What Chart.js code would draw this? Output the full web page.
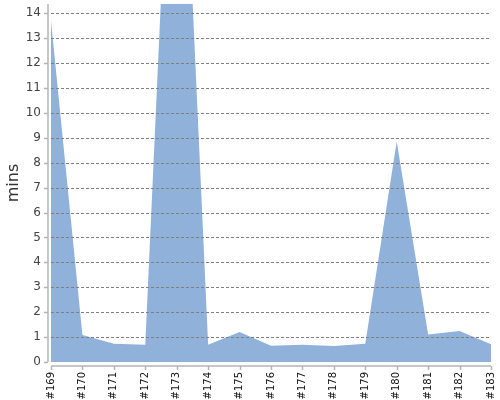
<!DOCTYPE html>
<html>
<head>
<meta charset="utf-8">
<script src="https://cdn.jsdelivr.net/npm/chart.js@4"></script>
<style>
html,body{margin:0;padding:0;background:#fff;}
#wrap{width:500px;height:400px;}
</style>
</head>
<body>
<div id="wrap"><canvas id="c"></canvas></div>
<script>
const categories = ['#169','#170','#171','#172','#173','#174','#175','#176','#177','#178','#179','#180','#181','#182','#183'];
const minsValues = [13.7, 1.08, 0.73, 0.69, 28.5, 0.69, 1.2, 0.65, 0.69, 0.64, 0.73, 8.85, 1.1, 1.24, 0.71];
const yMin = 0;
const yMax = 14.37;
const yStep = 1;

const axesPlugin = {
  id: 'axesPlugin',
  afterDatasetsDraw(chart) {
    const ctx = chart.ctx;
    const a = chart.chartArea;
    const ys = chart.scales.y;
    const xs = chart.scales.x;
    ctx.save();
    ctx.strokeStyle = '#7f7f7f';
    ctx.lineWidth = 1;
    ctx.setLineDash([3, 2]);
    ys.ticks.forEach(t => {
      if (t.value === 0) return;
      const y = Math.round(ys.getPixelForValue(t.value)) + 0.5;
      ctx.beginPath();
      ctx.moveTo(a.left, y);
      ctx.lineTo(a.right, y);
      ctx.stroke();
    });
    ctx.setLineDash([]);
    ctx.strokeStyle = '#b4b4b4';
    ctx.lineWidth = 1.5;
    const axX = a.left - 3;
    ctx.beginPath();
    ctx.moveTo(axX, a.top);
    ctx.lineTo(axX, a.bottom);
    ctx.stroke();
    ys.ticks.forEach(t => {
      const y = Math.round(ys.getPixelForValue(t.value)) + 0.5;
      ctx.beginPath();
      ctx.moveTo(axX - 4, y);
      ctx.lineTo(axX, y);
      ctx.stroke();
    });
    const axY = a.bottom + 4;
    ctx.beginPath();
    ctx.moveTo(a.left, axY);
    ctx.lineTo(a.right, axY);
    ctx.stroke();
    xs.ticks.forEach((t, i) => {
      const x = Math.round(xs.getPixelForTick(i)) + 0.5;
      ctx.beginPath();
      ctx.moveTo(x, axY);
      ctx.lineTo(x, axY + 4);
      ctx.stroke();
    });
    ctx.restore();
  }
};

new Chart(document.getElementById('c'), {
  type: 'line',
  data: {
    labels: categories,
    datasets: [{
      data: minsValues,
      fill: 'origin',
      backgroundColor: '#8fb1da',
      borderWidth: 0,
      borderColor: 'rgba(0,0,0,0)',
      pointRadius: 0,
      pointHoverRadius: 0,
      tension: 0
    }]
  },
  options: {
    responsive: true,
    maintainAspectRatio: false,
    animation: false,
    events: [],
    layout: { padding: { top: 4, right: 9, left: 0, bottom: 0 } },
    plugins: { legend: { display: false }, tooltip: { enabled: false } },
    scales: {
      x: {
        offset: false,
        grid: { display: false, drawTicks: false, tickLength: 0 },
        border: { display: false },
        ticks: {
          autoSkip: false,
          minRotation: 90,
          maxRotation: 90,
          padding: 10,
          color: '#111',
          font: { family: 'DejaVu Sans', size: 10 }
        },
        afterFit(s) { s.height = 38; s.paddingLeft = 0; s.paddingRight = 0; }
      },
      y: {
        min: yMin,
        max: yMax,
        grid: { display: false, drawTicks: false, tickLength: 0 },
        border: { display: false },
        ticks: {
          stepSize: yStep,
          includeBounds: false,
          padding: 10,
          color: '#444',
          font: { family: 'DejaVu Sans', size: 12 }
        },
        title: {
          display: true,
          text: 'mins',
          color: '#333',
          padding: { top: 4, bottom: 4 },
          font: { family: 'DejaVu Sans', size: 16 }
        },
        afterFit(s) { s.width = 51; s.paddingTop = 0; s.paddingBottom = 0; }
      }
    }
  },
  plugins: [axesPlugin]
});
</script>
</body>
</html>
